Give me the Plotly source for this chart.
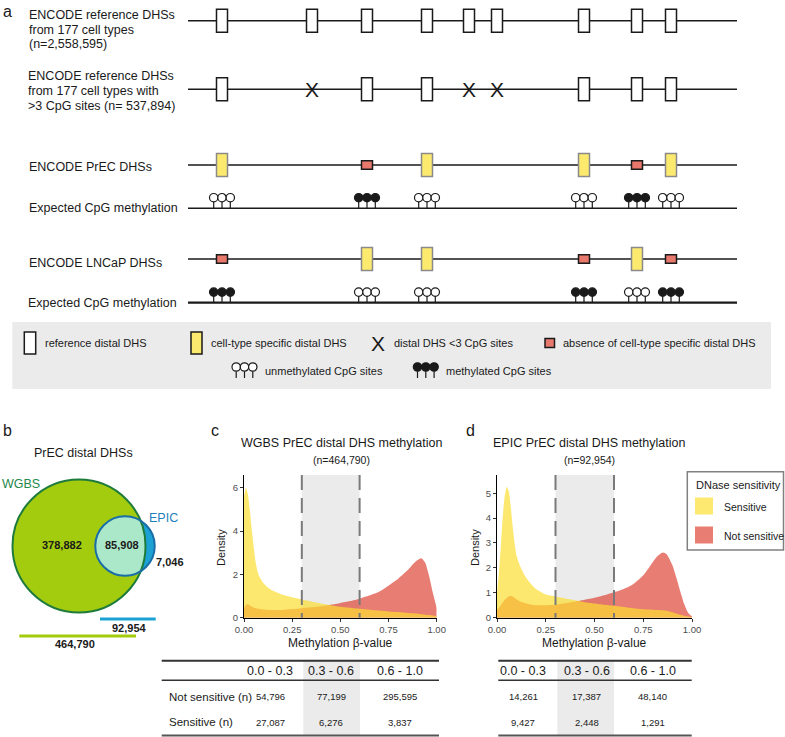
import numpy as np
import plotly.graph_objects as go

FONT = "Liberation Sans, Arial, Helvetica, sans-serif"
W, H = 785, 737
INK = "#1a1a1a"

# ---------------- data ----------------
# panel a: schematic DHS sites along the schematic chromosome
site_loc = [222, 312, 367, 427, 469, 497, 584, 637, 671]
ref_all_state = ["ref"] * 9
ref_cpg_state = ["ref", "X", "ref", "ref", "X", "X", "ref", "ref", "ref"]
prec_dhs_state = ["spec", "", "absent", "spec", "", "", "spec", "absent", "spec"]
prec_meth_state = ["U", "", "M", "U", "", "", "U", "M", "U"]
lncap_dhs_state = ["absent", "", "spec", "spec", "", "", "absent", "spec", "absent"]
lncap_meth_state = ["M", "", "U", "U", "", "", "M", "U", "M"]

# panel b: Venn counts
wgbs_only = 378882
both_count = 85908
epic_only = 7046
wgbs_total = 464790
epic_total = 92954

# panel c: WGBS densities (methylation beta-value)
c_x = [0, 0.01, 0.02, 0.03, 0.04, 0.05, 0.06, 0.07, 0.08, 0.1, 0.125, 0.15, 0.2, 0.25, 0.3,
       0.35, 0.4, 0.45, 0.5, 0.55, 0.6, 0.65, 0.7, 0.75, 0.8, 0.85, 0.88, 0.9, 0.92, 0.94,
       0.96, 0.98, 1.0]
c_sens = [5.6, 6.0, 5.7, 5.0, 4.1, 3.3, 2.6, 2.15, 1.9, 1.6, 1.38, 1.24, 1.06, 0.94, 0.84,
          0.75, 0.66, 0.58, 0.51, 0.46, 0.41, 0.37, 0.33, 0.29, 0.26, 0.22, 0.2, 0.18, 0.16,
          0.14, 0.12, 0.1, 0.08]
c_not = [0.45, 0.6, 0.62, 0.58, 0.52, 0.47, 0.44, 0.42, 0.4, 0.38, 0.36, 0.35, 0.36, 0.4, 0.44,
         0.48, 0.53, 0.6, 0.68, 0.77, 0.88, 1.02, 1.2, 1.48, 1.8, 2.2, 2.5, 2.66, 2.75, 2.55,
         1.95, 1.15, 0.45]

# panel d: EPIC densities
d_x = [0, 0.01, 0.02, 0.03, 0.04, 0.05, 0.06, 0.07, 0.08, 0.09, 0.1, 0.12, 0.15, 0.18, 0.2,
       0.25, 0.3, 0.35, 0.4, 0.45, 0.5, 0.55, 0.6, 0.65, 0.7, 0.75, 0.78, 0.82, 0.85, 0.87,
       0.9, 0.92, 0.94, 0.96, 0.98, 1.0]
d_sens = [1.0, 1.8, 2.9, 4.1, 4.9, 5.25, 5.1, 4.5, 3.7, 3.0, 2.5, 2.05, 1.6, 1.3, 1.15,
          0.93, 0.85, 0.77, 0.7, 0.62, 0.57, 0.52, 0.48, 0.43, 0.38, 0.34, 0.33, 0.31, 0.3,
          0.28, 0.22, 0.17, 0.12, 0.08, 0.05, 0.03]
d_not = [0.3, 0.4, 0.5, 0.62, 0.72, 0.8, 0.85, 0.87, 0.85, 0.8, 0.74, 0.65, 0.57, 0.52, 0.5,
         0.5, 0.52, 0.58, 0.65, 0.72, 0.8, 0.9, 1.02, 1.15, 1.35, 1.7, 2.02, 2.45, 2.62,
         2.55, 2.1, 1.6, 1.05, 0.55, 0.2, 0.05]

# tables
bin_edges = [0.0, 0.3, 0.6, 1.0]
bin_labels = ["0.0 - 0.3", "0.3 - 0.6", "0.6 - 1.0"]
row_labels = ["Not sensitive (n)", "Sensitive (n)"]
wgbs_not = [54796, 77199, 295595]
wgbs_sens = [27087, 6276, 3837]
epic_not = [14261, 17387, 48140]
epic_sens = [9427, 2448, 1291]

# ---------------- styles ----------------
YEL_A = "rgba(252,222,50,0.7)"
RED_A = "rgba(222,70,55,0.7)"
YEL_KEY = "#FDE870"
RED_KEY = "#E87D73"
BOX_YEL = "#FCEA6E"
BOX_RED = "#E9786C"
BAND = "#EBEBEB"

shapes = []
anns = []


def line(x0, y0, x1, y1, color=INK, width=1.5, dash=None, xref="x", yref="y", layer="above"):
    ln = dict(color=color, width=width)
    if dash:
        ln["dash"] = dash
    shapes.append(dict(type="line", x0=x0, y0=y0, x1=x1, y1=y1, xref=xref, yref=yref,
                       line=ln, layer=layer))


def rect(x0, y0, x1, y1, fill, lc=INK, lw=1.5, xref="x", yref="y", layer="above"):
    shapes.append(dict(type="rect", x0=x0, y0=y0, x1=x1, y1=y1, xref=xref, yref=yref,
                       fillcolor=fill, line=dict(color=lc, width=lw), layer=layer))


def circle(cx, cy, r, fill, lc=INK, lw=1.2):
    shapes.append(dict(type="circle", x0=cx - r, y0=cy - r, x1=cx + r, y1=cy + r,
                       xref="x", yref="y", fillcolor=fill,
                       line=dict(color=lc, width=lw), layer="above"))


def text(x, y, s, size=12, color=INK, anchor="left", bold=False, angle=0, yanchor="middle"):
    if bold:
        s = "<b>" + s + "</b>"
    anns.append(dict(x=x, y=y, xref="x", yref="y", text=s, showarrow=False,
                     xanchor=anchor, yanchor=yanchor, textangle=angle,
                     font=dict(family=FONT, size=size, color=color)))


def dhs_mark(x, y, state):
    if state == "ref":
        rect(x - 5.5, y - 11.5, x + 5.5, y + 11.5, "white", INK, 1.5)
    elif state == "spec":
        rect(x - 5.5, y - 11.5, x + 5.5, y + 11.5, BOX_YEL, "#8a8a8a", 1.5)
    elif state == "absent":
        rect(x - 5.5, y - 4.2, x + 5.5, y + 4.2, BOX_RED, INK, 1.5)
    elif state == "X":
        text(x, y + 0.5, "X", size=21, anchor="center")


def lollipops(x, base_y, methylated, stem=10.6, r=4.2, gap=8.3):
    cy = base_y - stem
    for k in (-1, 0, 1):
        line(x + k * gap, cy + r, x + k * gap, base_y, INK, 1.2)
    for k in (-1, 0, 1):
        circle(x + k * gap, cy, r, INK if methylated else "white", INK, 1.2)


# ---------------- panel a ----------------
text(1, 0.5, "a", size=16, yanchor="top")
LX0, LX1 = 188, 737
rows = [(20.7, ref_all_state, "dhs"), (89.3, ref_cpg_state, "dhs"),
        (165, prec_dhs_state, "dhs"), (208.3, prec_meth_state, "meth"),
        (259, lncap_dhs_state, "dhs"), (302.7, lncap_meth_state, "meth")]
for i, (ry, states, kind) in enumerate(rows):
    line(LX0, ry, LX1, ry, INK, 2.2 if i == len(rows) - 1 else 1.5)
for ry, states, kind in rows:
    for sx, st in zip(site_loc, states):
        if not st:
            continue
        if kind == "dhs":
            dhs_mark(sx, ry, st)
        else:
            lollipops(sx, ry, st == "M")

LAB = 12.5
for yy, s in zip([15, 29.5, 44], ["ENCODE reference DHSs", "from 177 cell types", "(n=2,558,595)"]):
    text(27, yy, s, LAB)
for yy, s in zip([76, 90.5, 105.5], ["ENCODE reference DHSs", "from 177 cell types with",
                                    ">3 CpG sites (n= 537,894)"]):
    text(26, yy, s, LAB)
text(27, 166.5, "ENCODE PrEC DHSs", LAB)
text(27, 208, "Expected CpG methylation", LAB)
text(27, 262.5, "ENCODE LNCaP DHSs", LAB)
text(26, 303, "Expected CpG methylation", LAB)

# legend box
rect(12.3, 322, 771, 389, BAND, BAND, 0)
R1, R2 = 343, 371
LEG = 11
rect(24.3, R1 - 11, 35.7, R1 + 11, "white", INK, 1.5)
text(42.5, R1, "reference distal DHS", LEG)
rect(191, R1 - 11, 202, R1 + 11, BOX_YEL, INK, 1.5)
text(209, R1, "cell-type specific distal DHS", LEG)
text(377.5, R1 + 0.5, "X", size=21, anchor="center")
text(391.5, R1, "distal DHS <3 CpG sites", LEG)
rect(545, R1 - 4.5, 554.5, R1 + 4.5, BOX_RED, INK, 1.5)
text(561, R1, "absence of cell-type specific distal DHS", LEG)
lollipops(244.5, R2 + 7, False, stem=11)
text(262.5, R2, "unmethylated CpG sites", LEG)
lollipops(425.8, R2 + 7, True, stem=11)
text(444, R2, "methylated CpG sites", LEG)

# ---------------- panel b (Venn) ----------------
text(1, 430, "b", size=16)
text(83, 453, "PrEC distal DHSs", 12.5, anchor="center")
k_scale = 66.5 / np.sqrt(wgbs_total)
r1 = k_scale * np.sqrt(wgbs_total)
r2 = k_scale * np.sqrt(epic_total)
c1x, c2x, cy = 79.0, 125.0, 546.0
GREEN_FILL, GREEN_LINE = "#A4CC0E", "#1E7B3C"
BLUE_FILL, BLUE_LINE, MINT = "#1BA1D3", "#1A6EA8", "#ABE7C9"

circle(c2x, cy, r2, BLUE_FILL, BLUE_FILL, 0)
circle(c1x, cy, r1, GREEN_FILL, GREEN_FILL, 0)
dd = c2x - c1x
a_ = (dd ** 2 + r1 ** 2 - r2 ** 2) / (2 * dd)
hh = np.sqrt(r1 ** 2 - a_ ** 2)
th2 = np.arctan2(hh, c1x + a_ - c2x)
th1 = np.arctan2(hh, a_)
t_small = np.linspace(th2, 2 * np.pi - th2, 80)
t_big = np.linspace(-th1, th1, 40)
px = list(c2x + r2 * np.cos(t_small)) + list(c1x + r1 * np.cos(t_big))
py = list(cy + r2 * np.sin(t_small)) + list(cy + r1 * np.sin(t_big))
path = "M " + " L ".join(f"{X:.2f},{Y:.2f}" for X, Y in zip(px, py)) + " Z"
shapes.append(dict(type="path", path=path, xref="x", yref="y", fillcolor=MINT,
                   line=dict(width=0), layer="above"))
circle(c1x, cy, r1, "rgba(0,0,0,0)", GREEN_LINE, 2)
circle(c2x, cy, r2, "rgba(0,0,0,0)", BLUE_LINE, 2)

text(0, 484, "WGBS", 12.5, color="#23884A")
text(163, 518, "EPIC", 12.5, color="#1F80BC", anchor="center")
text(62, 545, f"{wgbs_only:,}", 11, anchor="center", bold=True)
text(122, 545, f"{both_count:,}", 11, anchor="center", bold=True)
text(170, 562, f"{epic_only:,}", 11, anchor="center", bold=True)
line(100, 619, 155.7, 619, BLUE_FILL, 3)
text(129, 627.5, f"{epic_total:,}", 11, anchor="center", bold=True)
line(19.3, 636, 136, 636, GREEN_FILL, 3)
text(74.5, 643.5, f"{wgbs_total:,}", 11, anchor="center", bold=True)

# ---------------- panels c & d (densities) ----------------
fig = go.Figure()
fig.add_trace(go.Scatter(x=[0], y=[0], xaxis="x", yaxis="y", mode="markers",
                         marker=dict(opacity=0), hoverinfo="skip", showlegend=False))

panels = [
    dict(ax="2", xs=c_x, sens=c_sens, nots=c_not, px0=244, px1=436.7, ymax=6.59,
         yt=[0, 2, 4, 6], title="WGBS PrEC distal DHS methylation", n=wgbs_total,
         lab="c", labx=209, dens_x=221, tcx=341.5),
    dict(ax="3", xs=d_x, sens=d_sens, nots=d_not, px0=497, px1=692, ymax=5.73,
         yt=[0, 1, 2, 3, 4, 5], title="EPIC PrEC distal DHS methylation", n=epic_total,
         lab="d", labx=464, dens_x=475, tcx=589),
]
PY0, PY1 = 475, 617.7
axis_common = dict(showline=True, linecolor="black", linewidth=1, ticks="outside", ticklen=3,
                   tickwidth=1, tickcolor="#333333", showgrid=False, zeroline=False,
                   automargin=False,
                   tickfont=dict(family=FONT, size=9.5, color="#4D4D4D"), fixedrange=True)
layout_axes = {}
for p in panels:
    a = p["ax"]
    for ser, col in ((p["nots"], RED_A), (p["sens"], YEL_A)):
        fig.add_trace(go.Scatter(x=p["xs"], y=ser, xaxis="x" + a, yaxis="y" + a,
                                 mode="lines", fill="tozeroy", fillcolor=col,
                                 line=dict(width=0, shape="spline", smoothing=0.6, color=col),
                                 hoverinfo="skip", showlegend=False))
    layout_axes["xaxis" + a] = dict(domain=[p["px0"] / W, p["px1"] / W], anchor="y" + a,
                                    range=[0, 1], tickvals=[0, 0.25, 0.5, 0.75, 1.0],
                                    ticktext=["0.00", "0.25", "0.50", "0.75", "1.00"],
                                    **axis_common)
    layout_axes["yaxis" + a] = dict(domain=[1 - PY1 / H, 1 - PY0 / H], anchor="x" + a,
                                    range=[0, p["ymax"]], tickvals=p["yt"], **axis_common)
    # shaded intermediate bin and dashed boundaries
    rect(bin_edges[1], 0, bin_edges[2], 1, BAND, BAND, 0, xref="x" + a,
         yref="y" + a + " domain", layer="below")
    for xe in bin_edges[1:3]:
        line(xe, 1, xe, 0, "#7A7A7A", 2, dash="15px,8px", xref="x" + a,
             yref="y" + a + " domain")
    text(p["labx"], 430, p["lab"], size=16)
    text(p["tcx"], 443, p["title"], 12.5, anchor="center")
    text(p["tcx"], 460, f"(n={p['n']:,})", 10.5, anchor="center")
    text(p["dens_x"], 548, "Density", 11, anchor="center", angle=-90)
    text((p["px0"] + p["px1"]) / 2, 642.5, "Methylation β-value", 12, anchor="center")

# legend (panel d)
rect(687.3, 471.7, 783.5, 550, "white", "#808080", 1.5)
text(693.5, 484.5, "DNase sensitivity", 11)
rect(695, 497.5, 713, 514.5, YEL_KEY, YEL_KEY, 0)
text(721.5, 506.5, "Sensitive", 10.5)
rect(695, 526.5, 713, 543.5, RED_KEY, RED_KEY, 0)
text(721.5, 535.5, "Not sensitive", 10.5)

# ---------------- tables ----------------
tables = [
    dict(x0=161.7, x1=439, band=(303.3, 360), cols=[270, 331, 400],
         vals=[wgbs_not, wgbs_sens], labels=True),
    dict(x0=498.3, x1=691.7, band=(557.3, 614), cols=[523.3, 586.7, 652.7],
         vals=[epic_not, epic_sens], labels=False),
]
T_TOP, T_MID, T_BOT = 660.7, 680.3, 735.5
ROW_Y = [696.7, 722.3]
for t in tables:
    rect(t["band"][0], T_TOP, t["band"][1], T_BOT, BAND, BAND, 0)
    line(t["x0"], T_TOP, t["x1"], T_TOP, "#333333", 2)
    line(t["x0"], T_MID, t["x1"], T_MID, "#333333", 1.5)
    line(t["x0"], T_BOT, t["x1"], T_BOT, "#555555", 2)
    for cx_, lab in zip(t["cols"], bin_labels):
        text(cx_, 671, lab, 12.5, anchor="center")
    for ry, row, rl in zip(ROW_Y, t["vals"], row_labels):
        if t["labels"]:
            text(167, ry, rl, 11.5)
        for cx_, v in zip(t["cols"], row):
            text(cx_, ry, f"{v:,}", 9.5, anchor="center")

fig.update_layout(
    width=W, height=H, margin=dict(l=0, r=0, t=0, b=0, autoexpand=False),
    paper_bgcolor="white", plot_bgcolor="rgba(0,0,0,0)",
    xaxis=dict(domain=[0, 1], range=[0, W], visible=False, fixedrange=True, automargin=False),
    yaxis=dict(domain=[0, 1], range=[H, 0], visible=False, fixedrange=True, automargin=False),
    shapes=shapes, annotations=anns, showlegend=False,
    font=dict(family=FONT, color=INK),
    **layout_axes,
)
fig.write_html("out.html", config={"displayModeBar": False},
               post_script="document.body.style.margin='0px';document.body.style.overflow='hidden';")
